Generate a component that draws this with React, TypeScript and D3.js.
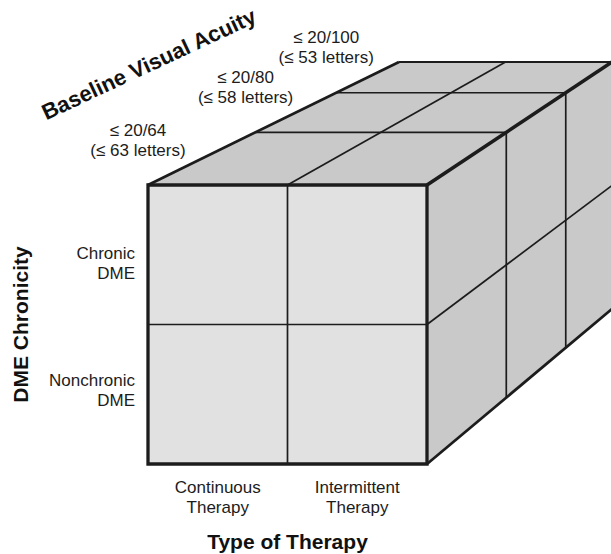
import React from 'react';
import * as d3 from 'd3';

// categories on each axis of the cube (multi-line labels)
const therapyTypes = [['Continuous', 'Therapy'], ['Intermittent', 'Therapy']];
const chronicityLevels = [['Chronic', 'DME'], ['Nonchronic', 'DME']];
const acuityLevels = [
    ['≤ 20/64', '(≤ 63 letters)'],
    ['≤ 20/80', '(≤ 58 letters)'],
    ['≤ 20/100', '(≤ 53 letters)'],
];
const titleX = 'Type of Therapy';
const titleY = 'DME Chronicity';
const titleZ = 'Baseline Visual Acuity';

const width = 611, height = 554;
const font = '"Liberation Sans", Arial, Helvetica, sans-serif';
const ink = '#1c1c1c';

// front face and (receding) back face of the box
const front = { left: 148, right: 427, top: 185, bottom: 464 };
const back = { left: 399, right: 612, top: 62, bottom: 309 };
const persp = 0.5; // foreshortening of the depth slices

export default function App() {
    const idx = (arr: any[]) => d3.range(arr.length);
    const xs = d3.scaleBand<number>().domain(idx(therapyTypes)).range([0, 1]);
    const ys = d3.scaleBand<number>().domain(idx(chronicityLevels)).range([0, 1]);
    const zs = d3.scaleBand<number>().domain(idx(acuityLevels)).range([0, 1]);

    const fx = d3.scaleLinear().domain([0, 1]).range([front.left, front.right]);
    const fy = d3.scaleLinear().domain([0, 1]).range([front.top, front.bottom]);
    const bx = d3.scaleLinear().domain([0, 1]).range([back.left, back.right]);
    const by = d3.scaleLinear().domain([0, 1]).range([back.top, back.bottom]);
    const depth = (z: number) => (z * (1 + persp)) / (1 + persp * z);

    const project = (u: number, v: number, z: number): [number, number] => {
        const t = depth(z);
        const x0 = fx(u), y0 = fy(v);
        return [x0 + (bx(u) - x0) * t, y0 + (by(v) - y0) * t];
    };

    const line = d3.line();
    const seg = (a: number[], b: number[]) =>
        line([project(a[0], a[1], a[2]), project(b[0], b[1], b[2])]) as string;
    const poly = (pts: number[][]) =>
        (line(pts.map(p => project(p[0], p[1], p[2]))) as string) + 'Z';

    // inner dividers (band boundaries except the outer ones)
    const uDiv = xs.domain().slice(1).map(d => xs(d) as number);
    const vDiv = ys.domain().slice(1).map(d => ys(d) as number);
    const zDiv = zs.domain().slice(1).map(d => zs(d) as number);

    const rowPos = d3.scalePoint<number>().domain(idx(chronicityLevels))
        .range([front.top, front.bottom]).padding(0.6);

    const thin = 1.7;

    return (
        <div style={{ position: 'absolute', left: 0, top: 0 }}>
            <svg width={width} height={height} style={{ display: 'block', background: '#fff' }}>
                {/* faces */}
                <path d={poly([[0, 0, 0], [1, 0, 0], [1, 0, 1], [0, 0, 1]])} fill="#c9c9c9" />
                <path d={poly([[1, 0, 0], [1, 0, 1], [1, 1, 1], [1, 1, 0]])} fill="#c9c9c9" />
                <path d={poly([[0, 0, 0], [1, 0, 0], [1, 1, 0], [0, 1, 0]])} fill="#e1e1e1" />

                {/* grid lines */}
                <g stroke={ink} strokeWidth={thin} fill="none">
                    {uDiv.map((u, i) => <path key={'fu' + i} d={seg([u, 0, 0], [u, 1, 0])} />)}
                    {vDiv.map((v, i) => <path key={'fv' + i} d={seg([0, v, 0], [1, v, 0])} />)}
                    {uDiv.map((u, i) => <path key={'tu' + i} d={seg([u, 0, 0], [u, 0, 1])} />)}
                    {zDiv.map((z, i) => <path key={'tz' + i} d={seg([0, 0, z], [1, 0, z])} />)}
                    {vDiv.map((v, i) => <path key={'rv' + i} d={seg([1, v, 0], [1, v, 1])} />)}
                    {zDiv.map((z, i) => <path key={'rz' + i} d={seg([1, 0, z], [1, 1, z])} />)}
                </g>

                {/* outer edges */}
                <g stroke={ink} fill="none" strokeLinejoin="miter">
                    <path d={seg([0, 0, 1], [1, 0, 1])} strokeWidth={2} />
                    <path d={seg([1, 0, 1], [1, 1, 1])} strokeWidth={2} />
                    <path d={seg([0, 0, 0], [0, 0, 1])} strokeWidth={2.7} />
                    <path d={seg([1, 1, 0], [1, 1, 1])} strokeWidth={2.7} />
                    <path d={seg([1, 0, 0], [1, 0, 1])} strokeWidth={3.6} />
                    <path d={poly([[0, 0, 0], [1, 0, 0], [1, 1, 0], [0, 1, 0]])} strokeWidth={3.3} />
                </g>

                <g fontFamily={font} fill={ink} fontSize={17}>
                    {/* therapy labels */}
                    {therapyTypes.map((lines, i) => (
                        <text key={'x' + i} x={fx((xs(i) as number) + xs.bandwidth() / 2)}
                            y={front.bottom + 29} textAnchor="middle">
                            {lines.map((s, j) => <tspan key={j} x={fx((xs(i) as number) + xs.bandwidth() / 2)} dy={j ? 20 : 0}>{s}</tspan>)}
                        </text>
                    ))}
                    {/* chronicity labels */}
                    {chronicityLevels.map((lines, i) => (
                        <text key={'y' + i} x={front.left - 13} y={(rowPos(i) as number) - 2} textAnchor="end">
                            {lines.map((s, j) => <tspan key={j} x={front.left - 13} dy={j ? 20 : 0}>{s}</tspan>)}
                        </text>
                    ))}
                    {/* acuity labels */}
                    {acuityLevels.map((lines, i) => {
                        const p = project(0, 0, zs(i) as number);
                        const cx = p[0] - 10, cy = p[1] - 39.5;
                        return (
                            <text key={'z' + i} x={cx} y={cy - 10} textAnchor="middle">
                                {lines.map((s, j) => <tspan key={j} x={cx} dy={j ? 20 : 0}>{s}</tspan>)}
                            </text>
                        );
                    })}
                </g>

                <g fontFamily={font} fill="#111" fontSize={21} fontWeight="bold" textAnchor="middle">
                    <text x={fx(0.5)} y={549}>{titleX}</text>
                    <text transform={`translate(28,${fy(0.5)}) rotate(-90)`}>{titleY}</text>
                    <text transform={`translate(152,71) rotate(-25)`} fontSize={22}>{titleZ}</text>
                </g>
            </svg>
        </div>
    );
}
